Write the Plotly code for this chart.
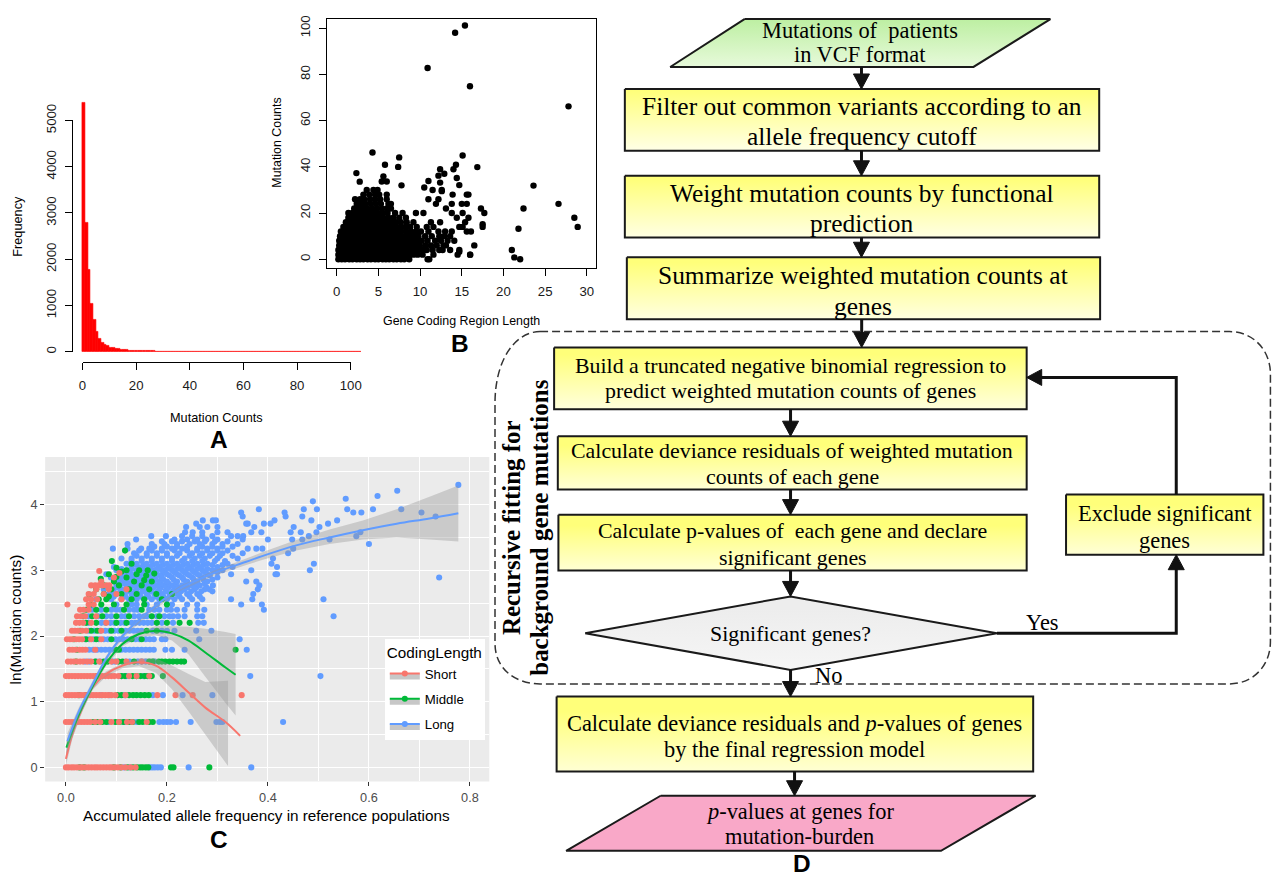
import plotly.graph_objects as go

W, H = 1283, 881
SANS = "Liberation Sans, Arial, sans-serif"
SERIF = "Liberation Serif, Times New Roman, serif"

# ---------------- Panel A : histogram of mutation counts ----------------
hist_counts = [5390, 2800, 1768, 1046, 700, 440, 289, 202, 144, 123,
               94, 79, 65, 58, 50, 43, 36, 29, 25, 22,
               20, 18, 17, 16, 15, 14, 13, 12, 12, 11,
               11, 10, 4, 9, 9, 4, 8, 8, 7, 7,
               6,
               2, 1, 2, 1, 1, 2, 1, 1, 1, 2, 1, 1, 1, 1, 2, 1,
               1, 1, 1, 1, 1, 1, 1, 1, 1, 1, 1, 1, 1, 1, 1, 1,
               1, 1, 1, 1, 1, 1, 1, 1, 1, 1, 1, 1, 1, 1, 1, 1,
               1, 1, 1, 1, 1, 1, 1, 1, 1, 1, 1, 1, 1, 1, 1]
hist_bin_width = 1
a_xticks = [0, 20, 40, 60, 80, 100]
a_yticks = [0, 1000, 2000, 3000, 4000, 5000]

# ---------------- Panel B : mutation counts vs coding length ----------------
b_rows_y = [0, 2, 4, 6, 8, 10, 12, 14, 16, 18, 20, 22, 24, 26, 28, 30]
b_rows_x = [
    [0.2, 0.6, 1.0, 1.5, 1.9, 2.4, 2.8, 3.2, 3.7, 4.1, 4.6, 5.0, 5.5, 5.9, 6.3, 6.8, 7.2, 7.7, 8.1, 8.7, 10.9, 11.1, 22.0],
    [0.2, 0.6, 1.1, 1.5, 2.0, 2.4, 2.9, 3.3, 3.8, 4.2, 4.7, 5.1, 5.6, 6.0, 6.5, 6.9, 7.4, 7.8, 8.3, 8.7, 9.2, 9.7, 10.3, 11.6, 14.5, 16.0],
    [0.2, 0.7, 1.1, 1.6, 2.0, 2.5, 2.9, 3.4, 3.8, 4.3, 4.7, 5.2, 5.6, 6.1, 6.5, 7.0, 7.4, 7.9, 8.3, 8.8, 9.3, 9.8, 10.3, 10.8, 11.5, 12.3, 12.7, 13.6, 14.7, 21.0],
    [0.3, 0.7, 1.2, 1.6, 2.1, 2.5, 3.0, 3.4, 3.9, 4.3, 4.8, 5.2, 5.7, 6.1, 6.6, 7.0, 7.5, 7.9, 8.4, 8.9, 9.4, 9.9, 10.6, 11.3, 12.0, 12.8, 13.1, 16.5],
    [0.3, 0.8, 1.2, 1.7, 2.1, 2.6, 3.0, 3.5, 3.9, 4.4, 4.8, 5.3, 5.7, 6.2, 6.6, 7.1, 7.5, 8.0, 8.5, 9.0, 9.6, 10.2, 10.9, 11.8, 12.5, 13.3, 14.1],
    [0.4, 0.8, 1.3, 1.7, 2.2, 2.6, 3.1, 3.5, 4.0, 4.4, 4.9, 5.3, 5.8, 6.2, 6.7, 7.1, 7.6, 8.1, 8.6, 9.2, 9.8, 10.6, 11.4, 12.3, 12.9, 13.6],
    [0.5, 0.9, 1.4, 1.8, 2.3, 2.7, 3.2, 3.6, 4.1, 4.5, 5.0, 5.4, 5.9, 6.3, 6.8, 7.2, 7.7, 8.3, 8.9, 9.5, 10.1, 11.0, 12.2, 13.0, 13.8, 15.6, 16.1],
    [0.8, 1.2, 1.7, 2.1, 2.6, 3.0, 3.5, 3.9, 4.4, 4.8, 5.3, 5.7, 6.2, 6.6, 7.1, 7.6, 8.2, 8.8, 9.6, 10.8, 11.6, 14.7, 15.1, 17.5],
    [1.1, 1.6, 2.0, 2.5, 2.9, 3.4, 3.8, 4.3, 4.7, 5.2, 5.6, 6.1, 6.6, 7.1, 7.7, 8.4, 9.2, 11.3, 12.4, 15.4],
    [1.4, 1.9, 2.3, 2.8, 3.2, 3.7, 4.1, 4.6, 5.1, 5.6, 6.2, 6.8, 7.5, 8.3, 14.4, 15.8],
    [1.4, 1.9, 2.4, 2.9, 3.4, 3.9, 4.4, 4.9, 5.5, 6.1, 7.0, 7.9, 9.5, 10.4, 13.8, 15.1, 17.7],
    [2.1, 2.6, 3.1, 3.6, 4.2, 4.8, 5.4, 6.0, 6.5, 13.1, 17.3, 22.4],
    [2.4, 3.0, 3.5, 4.1, 4.7, 5.3, 6.2, 6.5, 11.9, 13.8, 15.0, 15.6, 26.6],
    [2.2, 2.8, 3.3, 4.0, 4.6, 5.2, 6.0, 11.0, 12.2],
    [3.2, 3.9, 4.6, 5.1, 6.0, 13.9, 15.6, 15.8],
    [3.6, 4.4, 4.9, 11.5, 12.6],
]
b_extra_x = [2.36, 2.76, 4.29, 5.79, 5.6, 5.4, 6.0, 7.49, 7.37, 7.77, 10.9, 14.2, 15.38, 15.98, 27.8,
             15.1, 16.86, 12.4, 14.3, 14.0, 12.2, 12.9, 12.4, 11.0, 10.5, 14.4, 14.7, 12.6, 23.6, 28.5,
             28.9, 21.8, 21.3, 16.0, 14.7, 17.5]
b_extra_y = [37.3, 33.6, 46.2, 40.9, 35.9, 33.7, 33.7, 44.1, 40.0, 32.0, 82.8, 98.1, 101.2, 74.9, 66.2,
             44.9, 39.9, 39.0, 40.9, 39.0, 36.2, 37.0, 33.2, 33.9, 31.1, 35.2, 32.1, 29.5, 31.9, 18.0,
             14.0, 13.2, 0.8, 2.0, 3.2, 15.2]
b_xticks = [0, 5, 10, 15, 20, 25, 30]
b_yticks = [0, 20, 40, 60, 80, 100]

# ---------------- Panel C : ln(mutation counts) vs allele frequency ----------------
band_levels = [0.00, 0.69, 1.10, 1.39, 1.61, 1.79, 1.95, 2.08, 2.20, 2.30, 2.40, 2.48]
short_band_x = [
    [0.000, 0.005, 0.011, 0.016, 0.022, 0.028, 0.033, 0.039, 0.045, 0.051, 0.057, 0.062, 0.068, 0.074, 0.080, 0.086, 0.091, 0.097, 0.103, 0.110, 0.118, 0.128, 0.138],
    [0.000, 0.006, 0.012, 0.018, 0.024, 0.030, 0.036, 0.042, 0.048, 0.058, 0.068, 0.090, 0.105, 0.121, 0.131, 0.160],
    [0.000, 0.006, 0.012, 0.018, 0.024, 0.030, 0.036, 0.042, 0.048, 0.054, 0.060, 0.066, 0.072, 0.078, 0.084, 0.090, 0.098, 0.118, 0.181, 0.217, 0.251, 0.348],
    [0.000, 0.006, 0.012, 0.018, 0.024, 0.030, 0.036, 0.042, 0.048, 0.054, 0.060, 0.066, 0.072, 0.078, 0.084, 0.090, 0.096, 0.104, 0.125, 0.140, 0.165],
    [0.004, 0.010, 0.016, 0.022, 0.028, 0.034, 0.042, 0.050, 0.066, 0.090, 0.100, 0.120, 0.150],
    [0.007, 0.013, 0.019, 0.027, 0.033, 0.039, 0.058],
    [0.002, 0.008, 0.013, 0.020, 0.026, 0.032, 0.050, 0.070],
    [0.012, 0.018, 0.024, 0.032, 0.040, 0.070],
    [0.020, 0.027, 0.034, 0.050, 0.080],
    [0.022, 0.030, 0.038, 0.060],
    [0.028, 0.035, 0.045],
    [0.003, 0.045, 0.055],
]
middle_band_x = [
    [0.027, 0.036, 0.095, 0.108, 0.122, 0.133, 0.141, 0.147, 0.152, 0.158, 0.163, 0.208, 0.213, 0.284],
    [0.054, 0.062, 0.072, 0.080, 0.098, 0.106, 0.114, 0.125, 0.132, 0.145, 0.152, 0.165, 0.172],
    [0.026, 0.040, 0.102, 0.110, 0.125, 0.133, 0.140, 0.148, 0.156, 0.164],
    [0.062, 0.110, 0.117, 0.132, 0.140, 0.148, 0.156, 0.162, 0.170, 0.192],
    [0.020, 0.058, 0.075, 0.083, 0.104, 0.112, 0.135, 0.165, 0.172, 0.184, 0.190, 0.197, 0.205, 0.212, 0.220, 0.228, 0.234],
    [0.022, 0.100, 0.105, 0.336],
    [0.016, 0.040, 0.060, 0.090, 0.130, 0.150],
    [0.028, 0.050, 0.062, 0.090, 0.110, 0.160, 0.180],
    [0.040, 0.060, 0.100, 0.120, 0.180, 0.200, 0.225, 0.245],
    [0.034, 0.052, 0.072, 0.100, 0.125, 0.170, 0.185],
    [0.040, 0.060, 0.080, 0.115, 0.150],
    [0.050, 0.070, 0.095, 0.120, 0.155, 0.200],
]
long_band_x = [
    [0.115, 0.127, 0.166, 0.171, 0.176, 0.182, 0.188, 0.243, 0.367],
    [0.085, 0.115, 0.140, 0.185, 0.193, 0.200, 0.207, 0.218, 0.247, 0.298, 0.305, 0.310, 0.430],
    [0.070, 0.086, 0.117, 0.172, 0.192, 0.231, 0.290],
    [0.110, 0.120, 0.154, 0.365, 0.504],
    [0.038, 0.046, 0.060, 0.068, 0.092, 0.097, 0.118, 0.126, 0.142, 0.150, 0.158, 0.175],
    [0.046, 0.054, 0.062, 0.070, 0.078, 0.086, 0.094, 0.110, 0.118, 0.126, 0.134, 0.142, 0.150, 0.158, 0.166, 0.174, 0.197, 0.210, 0.235, 0.358],
    [0.038, 0.046, 0.055, 0.065, 0.075, 0.083, 0.098, 0.106, 0.114, 0.122, 0.138, 0.146, 0.158, 0.166, 0.174, 0.190, 0.197, 0.264, 0.344],
    [0.045, 0.056, 0.068, 0.078, 0.086, 0.096, 0.104, 0.118, 0.126, 0.134, 0.142, 0.150, 0.172, 0.190, 0.200, 0.215, 0.258, 0.288],
    [0.045, 0.070, 0.078, 0.088, 0.096, 0.108, 0.116, 0.130, 0.138, 0.146, 0.154, 0.162, 0.170, 0.190, 0.212, 0.262, 0.273],
    [0.045, 0.064, 0.080, 0.090, 0.110, 0.118, 0.135, 0.145, 0.155, 0.160, 0.180, 0.195, 0.205, 0.212, 0.222, 0.235, 0.260, 0.270, 0.530],
    [0.052, 0.070, 0.090, 0.100, 0.108, 0.125, 0.135, 0.142, 0.165, 0.175, 0.185, 0.200, 0.208, 0.220, 0.235, 0.260, 0.274, 0.392],
    [0.100, 0.130, 0.140, 0.160, 0.180, 0.210, 0.240, 0.260, 0.347, 0.388],
]
short_cloud_x = [0.040, 0.050, 0.062, 0.110, 0.045, 0.055, 0.075, 0.100, 0.060, 0.085, 0.120,
                 0.050, 0.058, 0.065, 0.072, 0.080, 0.086, 0.066, 0.106, 0.070, 0.095]
short_cloud_y = [2.56, 2.56, 2.56, 2.56, 2.64, 2.64, 2.64, 2.64, 2.71, 2.71, 2.71,
                 2.77, 2.77, 2.77, 2.77, 2.77, 2.77, 2.99, 2.96, 2.83, 2.89]
middle_cloud_x = [0.046, 0.060, 0.069, 0.075, 0.080, 0.090, 0.091, 0.095, 0.100, 0.105,
                  0.110, 0.117, 0.120, 0.125, 0.130, 0.135, 0.140, 0.145, 0.150, 0.155,
                  0.162, 0.165, 0.170, 0.179, 0.190, 0.210, 0.100, 0.110, 0.085, 0.130,
                  0.120, 0.159, 0.075, 0.065, 0.085, 0.140, 0.155, 0.175]
middle_cloud_y = [2.63, 2.71, 2.87, 2.64, 2.56, 2.71, 3.14, 2.83, 2.90, 2.77,
                  2.64, 3.30, 2.89, 2.71, 2.56, 2.83, 2.64, 3.00, 2.77, 2.56,
                  3.00, 2.71, 2.83, 2.64, 2.56, 2.64, 3.04, 2.98, 2.94, 3.10,
                  3.00, 2.92, 2.77, 2.56, 2.60, 2.94, 2.85, 2.95]
long_cloud_levels = [2.56, 2.60, 2.64, 2.68, 2.71, 2.74, 2.77, 2.80, 2.83, 2.86, 2.89, 2.92,
                     2.94, 2.97, 3.00, 3.02, 3.05, 3.08, 3.10, 3.14, 3.18, 3.22, 3.26, 3.30,
                     3.33, 3.36, 3.40, 3.44, 3.47, 3.52, 3.58, 3.66, 3.71, 3.76, 3.82, 3.88,
                     3.93, 4.05]
long_cloud_x = [
    [0.060, 0.090, 0.110, 0.125, 0.140, 0.155, 0.170, 0.185, 0.200, 0.215, 0.230, 0.250, 0.270, 0.327, 0.369, 0.510],
    [0.095, 0.118, 0.133, 0.148, 0.163, 0.178, 0.193, 0.208, 0.225, 0.245, 0.265],
    [0.085, 0.100, 0.115, 0.130, 0.145, 0.160, 0.175, 0.190, 0.205, 0.220, 0.240, 0.260, 0.371],
    [0.092, 0.108, 0.122, 0.137, 0.152, 0.167, 0.182, 0.197, 0.212, 0.228, 0.248, 0.268, 0.290],
    [0.075, 0.095, 0.110, 0.125, 0.140, 0.155, 0.170, 0.185, 0.200, 0.215, 0.235, 0.255, 0.275, 0.284, 0.380],
    [0.105, 0.128, 0.143, 0.158, 0.173, 0.188, 0.203, 0.220, 0.240, 0.258, 0.278],
    [0.100, 0.120, 0.135, 0.150, 0.165, 0.180, 0.195, 0.210, 0.230, 0.250, 0.265, 0.291, 0.383],
    [0.112, 0.128, 0.143, 0.158, 0.173, 0.188, 0.203, 0.218, 0.238, 0.258, 0.275],
    [0.105, 0.120, 0.140, 0.155, 0.170, 0.185, 0.200, 0.220, 0.240, 0.260, 0.280, 0.357, 0.377],
    [0.115, 0.132, 0.148, 0.163, 0.178, 0.193, 0.213, 0.233, 0.253, 0.272, 0.290],
    [0.089, 0.110, 0.125, 0.145, 0.160, 0.175, 0.190, 0.210, 0.230, 0.250, 0.270, 0.300, 0.739],
    [0.120, 0.138, 0.155, 0.170, 0.187, 0.205, 0.225, 0.245, 0.265, 0.285],
    [0.080, 0.115, 0.130, 0.150, 0.165, 0.180, 0.200, 0.220, 0.240, 0.260, 0.280, 0.327, 0.415, 0.418],
    [0.125, 0.145, 0.160, 0.178, 0.195, 0.215, 0.235, 0.255, 0.275, 0.300],
    [0.100, 0.120, 0.140, 0.155, 0.170, 0.190, 0.210, 0.230, 0.250, 0.270, 0.290, 0.310, 0.367, 0.483],
    [0.110, 0.130, 0.148, 0.163, 0.180, 0.200, 0.220, 0.240, 0.260, 0.280, 0.300],
    [0.095, 0.130, 0.150, 0.165, 0.185, 0.205, 0.225, 0.245, 0.265, 0.300, 0.330, 0.418],
    [0.140, 0.155, 0.172, 0.192, 0.212, 0.232, 0.252, 0.272, 0.290, 0.310],
    [0.120, 0.140, 0.160, 0.180, 0.200, 0.220, 0.240, 0.260, 0.280, 0.320, 0.407, 0.491],
    [0.130, 0.150, 0.170, 0.190, 0.210, 0.230, 0.250, 0.270, 0.295, 0.315],
    [0.110, 0.130, 0.150, 0.170, 0.190, 0.210, 0.235, 0.255, 0.275, 0.300, 0.340, 0.410],
    [0.140, 0.160, 0.180, 0.200, 0.220, 0.245, 0.265, 0.285, 0.305, 0.330],
    [0.135, 0.160, 0.180, 0.200, 0.225, 0.250, 0.270, 0.290, 0.310, 0.350, 0.440],
    [0.145, 0.170, 0.190, 0.215, 0.240, 0.260, 0.280, 0.300, 0.320],
    [0.093, 0.122, 0.149, 0.165, 0.190, 0.210, 0.230, 0.260, 0.280, 0.300, 0.360, 0.377, 0.389, 0.450],
    [0.175, 0.200, 0.220, 0.240, 0.270, 0.290, 0.310, 0.330],
    [0.122, 0.170, 0.195, 0.220, 0.245, 0.265, 0.290, 0.310, 0.340, 0.600],
    [0.190, 0.210, 0.230, 0.255, 0.275, 0.295, 0.320],
    [0.139, 0.215, 0.240, 0.260, 0.278, 0.300, 0.350, 0.400, 0.448, 0.468, 0.522],
    [0.169, 0.198, 0.230, 0.250, 0.270, 0.290, 0.327, 0.340, 0.351, 0.481, 0.575],
    [0.236, 0.251, 0.270, 0.300, 0.320, 0.367, 0.387, 0.445, 0.465, 0.496, 0.583],
    [0.238, 0.265, 0.280, 0.300, 0.373, 0.451, 0.502],
    [0.258, 0.357, 0.360, 0.392, 0.405, 0.519],
    [0.271, 0.291, 0.297, 0.413, 0.486, 0.537],
    [0.350, 0.435, 0.468, 0.732],
    [0.347, 0.433, 0.569, 0.585, 0.704],
    [0.382, 0.471, 0.497, 0.557, 0.608, 0.664],
    [0.489],
]
long_extra_x = [0.656, 0.777, 0.617, 0.554]
long_extra_y = [4.21, 4.30, 4.13, 4.09]

# smooth fits with confidence ribbons
short_fit_x = [0.000, 0.013, 0.033, 0.053, 0.079, 0.112, 0.145, 0.178, 0.210, 0.243, 0.276, 0.316, 0.345]
short_fit_y = [0.13, 0.51, 0.91, 1.22, 1.42, 1.55, 1.60, 1.55, 1.37, 1.14, 0.91, 0.69, 0.48]
short_rib_x = [0.000, 0.013, 0.033, 0.053, 0.079, 0.112, 0.145, 0.178, 0.210, 0.243, 0.276, 0.321]
short_rib_lo = [0.03, 0.44, 0.86, 1.18, 1.38, 1.51, 1.54, 1.44, 1.19, 0.85, 0.50, 0.02]
short_rib_hi = [0.23, 0.58, 0.96, 1.26, 1.46, 1.59, 1.66, 1.66, 1.55, 1.42, 1.30, 1.32]
middle_fit_x = [0.001, 0.026, 0.052, 0.079, 0.112, 0.145, 0.178, 0.210, 0.243, 0.276, 0.316, 0.336]
middle_fit_y = [0.30, 0.81, 1.22, 1.58, 1.88, 2.03, 2.08, 2.04, 1.93, 1.75, 1.52, 1.41]
middle_rib_lo = [0.20, 0.75, 1.17, 1.54, 1.84, 1.98, 2.01, 1.93, 1.72, 1.38, 0.98, 0.79]
middle_rib_hi = [0.40, 0.87, 1.27, 1.62, 1.92, 2.08, 2.15, 2.15, 2.14, 2.11, 2.06, 2.03]
long_fit_x = [0.003, 0.026, 0.053, 0.079, 0.112, 0.165, 0.225, 0.291, 0.357, 0.390, 0.456, 0.522, 0.588, 0.655, 0.720, 0.777]
long_fit_y = [0.40, 0.86, 1.27, 1.65, 2.00, 2.38, 2.72, 2.95, 3.13, 3.22, 3.38, 3.50, 3.61, 3.71, 3.79, 3.87]
long_rib_lo = [0.28, 0.80, 1.22, 1.61, 1.96, 2.34, 2.68, 2.91, 3.08, 3.16, 3.30, 3.40, 3.47, 3.50, 3.47, 3.44]
long_rib_hi = [0.52, 0.92, 1.32, 1.69, 2.04, 2.42, 2.76, 2.99, 3.18, 3.28, 3.46, 3.62, 3.76, 3.93, 4.12, 4.29]
group_names = ["Short", "Middle", "Long"]
group_colors = ["#F8766D", "#00BA38", "#619CFF"]

# ---------------- layout helpers ----------------
# The photographed page maps page pixels to picture pixels as  pic = A + B * page
# (measured from earlier renders); all positions below are given in picture pixels.
AX, BX = 4.9, 0.9865
AY, BY = 17.4, 0.977
FS = 1.0 / 0.982  # font / size compensation


def fx(p):
    return ((p - AX) / BX) / W


def fy(p):
    return 1 - ((p - AY) / BY) / H


def rng(pa, pb, v0, p0, v1, p1):
    k = (v1 - v0) / (p1 - p0)
    return [v0 + (pa - p0) * k, v0 + (pb - p0) * k]


def expand(levels, rows):
    xs, ys = [], []
    for lv, row in zip(levels, rows):
        xs += row
        ys += [lv] * len(row)
    return xs, ys


fig = go.Figure()

# ---- Panel A traces
bin_left = [i * hist_bin_width for i in range(len(hist_counts))]
fig.add_trace(go.Bar(x=[b + hist_bin_width / 2 for b in bin_left], y=hist_counts, width=hist_bin_width,
                     marker=dict(color="#FF0000", line=dict(color="#FF0000", width=0.6)),
                     xaxis="x", yaxis="y", showlegend=False, hoverinfo="skip"))
fig.add_trace(go.Scatter(x=[None], y=[None], xaxis="x5", yaxis="y5", showlegend=False, hoverinfo="skip"))

# ---- Panel B traces
bx, by = expand(b_rows_y, b_rows_x)
bx += b_extra_x
by += b_extra_y
fig.add_trace(go.Scatter(x=bx, y=by, mode="markers", marker=dict(color="black", size=6.4),
                         xaxis="x2", yaxis="y2", showlegend=False, hoverinfo="skip"))

# ---- Panel C traces
sx, sy = expand(band_levels, short_band_x)
sx += short_cloud_x; sy += short_cloud_y
mx, my = expand(band_levels, middle_band_x)
mx += middle_cloud_x; my += middle_cloud_y
lx, ly = expand(band_levels, long_band_x)
cx, cy = expand(long_cloud_levels, long_cloud_x)
lx += cx + long_extra_x; ly += cy + long_extra_y

for xs, ys, col in [(lx, ly, group_colors[2]), (mx, my, group_colors[1]), (sx, sy, group_colors[0])]:
    fig.add_trace(go.Scatter(x=xs, y=ys, mode="markers", marker=dict(color=col, size=6.1),
                             xaxis="x3", yaxis="y3", showlegend=False, hoverinfo="skip"))

RIB = "rgba(153,153,153,0.4)"
fits = [
    (short_rib_x, short_rib_lo, short_rib_hi, short_fit_x, short_fit_y, group_colors[0]),
    (middle_fit_x, middle_rib_lo, middle_rib_hi, middle_fit_x, middle_fit_y, group_colors[1]),
    (long_fit_x, long_rib_lo, long_rib_hi, long_fit_x, long_fit_y, group_colors[2]),
]
for rx, lo, hi, fxs, fys, col in fits:
    fig.add_trace(go.Scatter(x=rx + rx[::-1], y=hi + lo[::-1], fill="toself", fillcolor=RIB,
                             mode="none", xaxis="x3", yaxis="y3", showlegend=False, hoverinfo="skip"))
    fig.add_trace(go.Scatter(x=fxs, y=fys, mode="lines", line=dict(color=col, width=2, shape="spline"),
                             xaxis="x3", yaxis="y3", showlegend=False, hoverinfo="skip"))

for nm, col in zip(group_names, group_colors):
    fig.add_trace(go.Scatter(x=[None], y=[None], mode="lines+markers", name=nm, legendgroup=nm,
                             line=dict(color=col, width=2), marker=dict(color=col, size=6),
                             fill="toself", fillcolor="rgba(153,153,153,0.55)",
                             xaxis="x3", yaxis="y3", hoverinfo="skip"))

fig.add_shape(type="rect", xref="x3 domain", yref="y3 domain", x0=0, x1=1, y0=0, y1=1,
              fillcolor="#EBEBEB", line=dict(width=0), layer="below")

# ---------------- Panel D : flowchart (picture-pixel coordinate system x4/y4) ----------------
YEL = ("#FFFF7A", "#FFFFEC")


def rect(x0, y0, x1, y1):
    return [(x0, y0), (x1, y0), (x1, y1), (x0, y1)]


flow_shapes = [
    ([(744.0, 19.5), (1049.4, 19.5), (972.6, 67.3), (669.9, 67.3)], ("#BDEFA2", "#E8FADC")),
    (rect(624.6, 89.3, 1098.1, 151.0), YEL),
    (rect(624.6, 176.0, 1098.1, 237.7), YEL),
    (rect(626.6, 257.3, 1099.0, 319.3), YEL),
    (rect(554.0, 347.3, 1025.7, 409.0), YEL),
    (rect(557.7, 436.0, 1025.7, 489.3), YEL),
    (rect(558.3, 514.3, 1025.7, 570.0), YEL),
    ([(585.0, 632.7), (790.0, 596.0), (996.0, 632.7), (790.0, 669.3)], ("#EDEDED", "#F7F7F7")),
    (rect(1065.0, 494.3, 1262.0, 554.3), YEL),
    (rect(556.5, 696.0, 1032.2, 770.7), YEL),
    ([(660.3, 795.0), (1034.6, 795.0), (940.2, 850.0), (566.0, 850.0)], ("#F9A8C8", "#F9A8C8")),
]
for pts, (ctop, cbot) in flow_shapes:
    xs = [p[0] for p in pts] + [pts[0][0]]
    ys = [p[1] for p in pts] + [pts[0][1]]
    fig.add_trace(go.Scatter(
        x=xs, y=ys, mode="lines", fill="toself",
        fillgradient=dict(type="vertical", colorscale=[[0, ctop], [1, cbot]],
                          start=min(ys), stop=max(ys)),
        line=dict(color="#1A1A1A", width=2), xaxis="x4", yaxis="y4",
        showlegend=False, hoverinfo="skip"))

# dashed rounded frame
fig.add_shape(type="path", xref="x4", yref="y4",
              path=("M 540,331.5 L 1228,331.5 C 1252,331.5 1269,350 1269,374 L 1269,641 "
                    "C 1269,665 1252,683.3 1228,683.3 L 540,683.3 C 515,683.3 495,668 495,643 "
                    "L 495,403 C 495,360 515,331.5 540,331.5 Z"),
              line=dict(color="#333333", width=1.5, dash="8px,4px"), layer="above")

# arrows
arrows = [
    [(860.8, 67.3), (860.8, 89.3)],
    [(860.8, 151.0), (860.8, 176.0)],
    [(860.8, 237.7), (860.8, 257.3)],
    [(861.0, 319.3), (861.0, 347.3)],
    [(790.0, 409.0), (790.0, 436.0)],
    [(790.0, 489.3), (790.0, 514.3)],
    [(790.0, 570.0), (790.0, 596.0)],
    [(790.0, 669.3), (790.0, 696.0)],
    [(794.0, 770.7), (794.0, 795.0)],
    [(996.0, 632.7), (1175.0, 632.7), (1175.0, 554.3)],
    [(1175.0, 494.3), (1175.0, 377.3), (1025.7, 377.3)],
]
HL, HW = 15.0, 16.0
for pts in arrows:
    (xa, ya), (xb, yb) = pts[-2], pts[-1]
    L = ((xb - xa) ** 2 + (yb - ya) ** 2) ** 0.5
    ux, uy = (xb - xa) / L, (yb - ya) / L
    bxp, byp = xb - ux * HL, yb - uy * HL
    line_pts = pts[:-1] + [(bxp + ux * 2, byp + uy * 2)]
    path = "M " + " L ".join(f"{x:.1f},{y:.1f}" for x, y in line_pts)
    fig.add_shape(type="path", xref="x4", yref="y4", path=path,
                  line=dict(color="#111111", width=3), layer="above")
    px_, py_ = -uy, ux
    tri = (f"M {xb:.1f},{yb:.1f} L {bxp + px_ * HW / 2:.1f},{byp + py_ * HW / 2:.1f} "
           f"L {bxp - px_ * HW / 2:.1f},{byp - py_ * HW / 2:.1f} Z")
    fig.add_shape(type="path", xref="x4", yref="y4", path=tri, fillcolor="#111111",
                  line=dict(color="#111111", width=1), layer="above")


def txt(x, y, s, size, family=SERIF, color="black", angle=0):
    fig.add_annotation(x=x, y=y, xref="x4", yref="y4", text=s, showarrow=False,
                       font=dict(family=family, size=size * FS, color=color), textangle=angle,
                       xanchor="center", yanchor="middle")


flow_text = [
    (859.2, 31.0, "Mutations of  patients", 22),
    (859.2, 54.5, "in VCF format", 22),
    (861.3, 106.7, "Filter out common variants according to an", 25),
    (861.3, 136.7, "allele frequency cutoff", 25),
    (861.3, 193.3, "Weight mutation counts by functional", 25),
    (861.3, 224.0, "prediction", 25),
    (862.8, 275.7, "Summarize weighted mutation counts at", 25),
    (862.8, 306.0, "genes", 25),
    (790.0, 365.0, "Build a truncated negative binomial regression to", 21.5),
    (790.0, 390.7, "predict weighted mutation counts of genes", 21.5),
    (791.7, 450.0, "Calculate deviance residuals of weighted mutation", 21.5),
    (791.7, 476.0, "counts of each gene", 21.5),
    (792.0, 530.0, "Calculate p-values of  each gene and declare", 21.5),
    (792.0, 556.7, "significant genes", 21.5),
    (790.0, 632.7, "Significant genes?", 21.5),
    (1163.5, 512.7, "Exclude significant", 22),
    (1163.5, 540.0, "genes", 22),
    (1041.7, 621.7, "Yes", 22),
    (827.7, 675.0, "No", 22),
    (794.3, 723.3, "Calculate deviance residuals and <i>p</i>-values of genes", 22),
    (794.3, 749.3, "by the final regression model", 22),
    (799.0, 811.0, "<i>p</i>-values at genes for", 22),
    (799.0, 835.5, "mutation-burden", 22),
]
for x, y, s, sz in flow_text:
    txt(x, y, s, sz)
txt(511.7, 527.0, "<b>Recursive fitting for</b>", 24.5, angle=-90)
txt(539.3, 527.0, "<b>background gene mutations</b>", 24.5, angle=-90)

# axis titles and panel letters
txt(217.5, 417.3, "Mutation Counts", 12.5, SANS)
txt(18.0, 226.7, "Frequency", 12.5, SANS, angle=-90)
txt(461.7, 320.7, "Gene Coding Region Length", 12.2, SANS)
txt(277.0, 143.3, "Mutation Counts", 12.2, SANS, angle=-90)
txt(266.7, 815.0, "Accumulated allele frequency in reference populations", 15, SANS)
txt(16.7, 619.2, "ln(Mutation counts)", 15, SANS, angle=-90)
for x, y, s in [(220.0, 439.3, "A"), (460.0, 343.3, "B"), (220.0, 838.3, "C"), (801.8, 863.0, "D")]:
    txt(x, y, f"<b>{s}</b>", 24, SANS)

# ---------------- layout ----------------
rtick = dict(family=SANS, size=13 * FS, color="#1A1A1A")
ctick = dict(family=SANS, size=12.5 * FS, color="#4D4D4D")
fig.update_layout(
    width=W, height=H, margin=dict(l=0, r=0, t=0, b=0),
    paper_bgcolor="white", plot_bgcolor="rgba(0,0,0,0)", bargap=0, hovermode=False,
    xaxis=dict(domain=[fx(72), fx(372)], range=rng(72, 372, 0, 83.3, 100, 351.0), visible=False, anchor="y"),
    yaxis=dict(domain=[fy(362), fy(100)], range=rng(362, 100, 0, 351.7, 5000, 120.7), visible=False, anchor="x"),
    xaxis5=dict(domain=[fx(83.3), fx(351.0)], range=[0, 100], anchor="free", position=fy(361.7),
                showline=True, linecolor="black", linewidth=1, ticks="outside", ticklen=7, tickcolor="black",
                tickvals=a_xticks, showgrid=False, zeroline=False, tickfont=rtick, ticklabelstandoff=4),
    yaxis5=dict(domain=[fy(351.7), fy(120.7)], range=[0, 5000], anchor="free", position=fx(73),
                showline=True, linecolor="black", linewidth=1, ticks="outside", ticklen=7, tickcolor="black",
                tickvals=a_yticks, showgrid=False, zeroline=False, tickfont=rtick, tickangle=-90,
                ticklabelstandoff=4),
    xaxis2=dict(domain=[fx(327.3), fx(596.0)], range=rng(327.3, 596.0, 0, 337.0, 30, 586.7), anchor="y2",
                showline=True, mirror=True, linecolor="black", linewidth=1, ticks="outside", ticklen=7,
                tickcolor="black", tickvals=b_xticks, showgrid=False, zeroline=False, tickfont=rtick,
                ticklabelstandoff=4),
    yaxis2=dict(domain=[fy(268.3), fy(19.3)], range=rng(268.3, 19.3, 0, 259.3, 100, 28.7), anchor="x2",
                showline=True, mirror=True, linecolor="black", linewidth=1, ticks="outside", ticklen=7,
                tickcolor="black", tickvals=b_yticks, showgrid=False, zeroline=False, tickfont=rtick,
                tickangle=-90, ticklabelstandoff=4),
    xaxis3=dict(domain=[fx(46.0), fx(489.3)], range=rng(46.0, 489.3, 0, 66.7, 0.8, 470.0), anchor="y3",
                showgrid=True, gridcolor="white", gridwidth=1.1, dtick=0.2, tick0=0, tickformat=".1f",
                minor=dict(dtick=0.1, showgrid=True, gridcolor="white", gridwidth=0.5),
                ticks="outside", ticklen=4, tickcolor="#333333", zeroline=False, showline=False,
                tickfont=ctick),
    yaxis3=dict(domain=[fy(780.7), fy(456.7)], range=rng(780.7, 456.7, 0, 766.7, 4, 504.3), anchor="x3",
                showgrid=True, gridcolor="white", gridwidth=1.1, dtick=1, tick0=0,
                minor=dict(dtick=0.5, showgrid=True, gridcolor="white", gridwidth=0.5),
                ticks="outside", ticklen=4, tickcolor="#333333", zeroline=False, showline=False,
                tickfont=ctick),
    xaxis4=dict(domain=[0, 1], range=[AX, AX + BX * W], visible=False, anchor="y4"),
    yaxis4=dict(domain=[0, 1], range=[AY + BY * H, AY], visible=False, anchor="x4"),
    legend=dict(x=fx(385), y=fy(638), xanchor="left", yanchor="top", bgcolor="white",
                font=dict(family=SANS, size=13 * FS, color="black"), tracegroupgap=5,
                title=dict(text="CodingLength", font=dict(family=SANS, size=15 * FS, color="black"))),
)

# page styling: run right after the plot call (no body margin, no scrollbars)
page_js = ("}); document.documentElement.style.overflow='hidden'; "
           "document.body.style.margin='0px'; document.body.style.overflow='hidden'; (function(){")
fig.write_html("out.html", config={"displayModeBar": False}, post_script=page_js)
